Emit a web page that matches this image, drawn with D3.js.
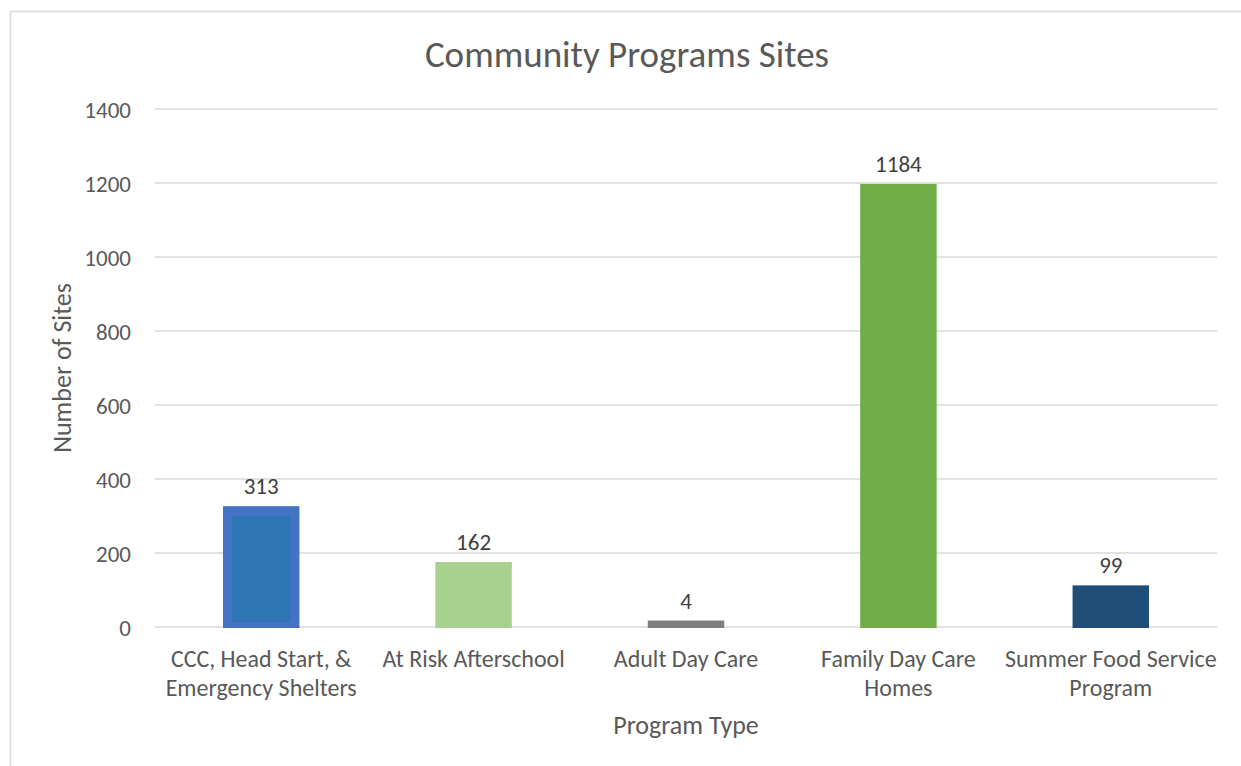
<!DOCTYPE html>
<html>
<head>
<meta charset="utf-8">
<script src="https://cdn.jsdelivr.net/npm/d3@7"></script>
<style>
  html, body { margin: 0; padding: 0; background: #fff; }
  svg { display: block; }
  text { font-family: Carlito, Calibri, Lato, sans-serif; fill: #595959; }
</style>
</head>
<body>
<svg id="chart" width="1241" height="766"></svg>
<script>
// data
var categories = [['CCC, Head Start, &', 'Emergency Shelters'], ['At Risk Afterschool'], ['Adult Day Care'], ['Family Day Care', 'Homes'], ['Summer Food Service', 'Program']];
var sites = [313, 162, 4, 1184, 99];
var yTicks = [0, 200, 400, 600, 800, 1000, 1200, 1400];
var barFill = ['#2E75B6', '#A9D18E', '#7F7F7F', '#70AD47', '#1F4E79'];
var barEdge = ['#4472C4', null, null, null, null];

var svg = d3.select('#chart');
var W = 1241, H = 766;
var m = { left: 155, right: 1217, top: 109, bottom: 627 };

// frame of the chart area (cut by the window on right/bottom)
svg.append('rect').attr('x', 10.5).attr('y', 11.5).attr('width', W + 20).attr('height', H + 20)
  .attr('fill', '#fff').attr('stroke', '#d9d9d9').attr('stroke-width', 1.5);

var x = d3.scaleBand().domain(d3.range(sites.length)).range([m.left, m.right]).paddingInner(0.64).paddingOuter(0.32);
var y = d3.scaleLinear().domain([0, 1400]).range([m.bottom, m.top]);

// gridlines
svg.append('g').selectAll('line').data(yTicks).enter().append('line')
  .attr('x1', m.left).attr('x2', m.right)
  .attr('y1', function (d) { return y(d); }).attr('y2', function (d) { return y(d); })
  .attr('stroke', '#d9d9d9').attr('stroke-width', 1.3);

// y axis labels
var yAxis = d3.axisLeft(y).tickValues(yTicks).tickFormat(d3.format('d')).tickSize(0).tickPadding(24);
var gy = svg.append('g').attr('transform', 'translate(' + m.left + ',0)').call(yAxis);
gy.select('.domain').remove();
gy.selectAll('text').attr('font-size', 23).attr('dy', '0.35em').style('font-family', null);

// bars (Excel draws them a little above the value)
var lift = 5;
var gb = svg.append('g');
sites.forEach(function (v, i) {
  var bx = x(i), bw = x.bandwidth(), top = y(v) - lift, bot = y(0) + 1;
  if (barEdge[i]) {
    gb.append('rect').attr('x', bx).attr('y', top).attr('width', bw).attr('height', bot - top).attr('fill', barEdge[i]);
    gb.append('rect').attr('x', bx + 9).attr('y', top + 10).attr('width', bw - 18).attr('height', bot - top - 16).attr('fill', barFill[i]);
  } else {
    gb.append('rect').attr('x', bx).attr('y', top).attr('width', bw).attr('height', bot - top).attr('fill', barFill[i]);
  }
  svg.append('text').attr('x', bx + bw / 2).attr('y', top - 12).attr('text-anchor', 'middle')
    .attr('font-size', 23).style('fill', '#404040').text(v);
});

// category labels
var gx = svg.append('g');
categories.forEach(function (lines, i) {
  var t = gx.append('text').attr('text-anchor', 'middle').attr('font-size', 24);
  lines.forEach(function (l, k) {
    t.append('tspan').attr('x', x(i) + x.bandwidth() / 2).attr('y', 667 + k * 29).text(l);
  });
});

// titles
svg.append('text').attr('x', 627).attr('y', 67).attr('text-anchor', 'middle').attr('font-size', 37).text('Community Programs Sites');
svg.append('text').attr('x', (m.left + m.right) / 2).attr('y', 734).attr('text-anchor', 'middle').attr('font-size', 26).text('Program Type');
svg.append('text').attr('transform', 'translate(71,' + ((m.top + m.bottom) / 2) + ') rotate(-90)')
  .attr('text-anchor', 'middle').attr('font-size', 26).text('Number of Sites');
</script>
</body>
</html>
